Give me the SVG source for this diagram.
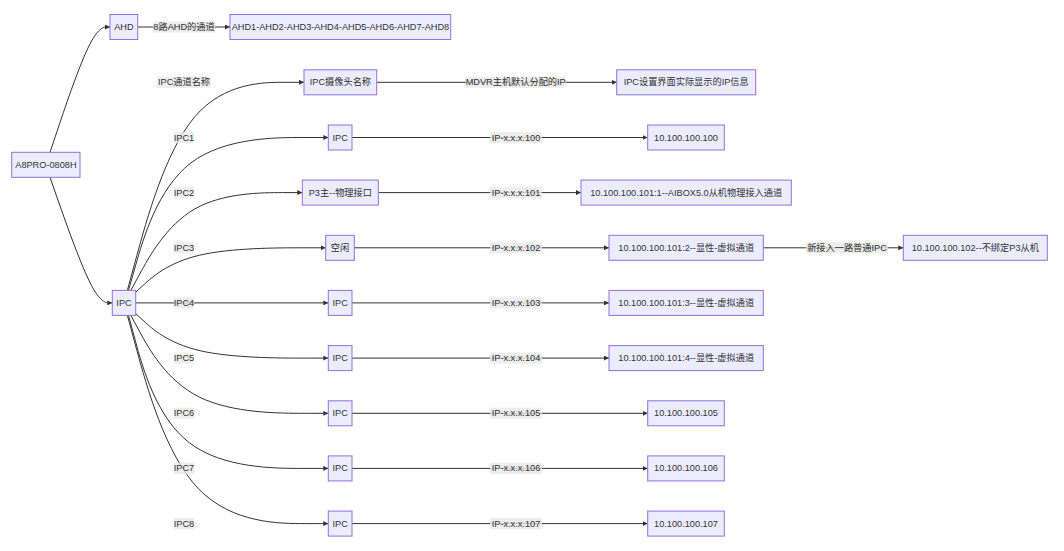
<svg xmlns="http://www.w3.org/2000/svg" width="1064" height="551" viewBox="0 0 1064 551">
<style>
text{font-family:"Liberation Sans","Noto Sans CJK SC",sans-serif;font-size:9.2px;fill:#333;text-anchor:middle;dominant-baseline:central}
.n rect{fill:#ECECFF;stroke:#9370DB;stroke-width:1}
.e path{fill:none;stroke:#333;stroke-width:1;marker-end:url(#arr)}
.l rect{fill:#e8e8e8;fill-opacity:0.8}
</style>
<defs>
<marker id="arr" viewBox="0 0 10 10" refX="10" refY="5" markerUnits="userSpaceOnUse" markerWidth="5" markerHeight="5" orient="auto">
<path d="M0,0 L10,5 L0,10 z" fill="#333"/>
</marker>
</defs>
<rect width="1064" height="551" fill="#fff"/>
<g id="connectors" class="e">
<path d="M50,152.3 L57,131.4 C64,110.5 78,68.8 88,47.9 C98,27 104,27 107,27 L110,27"/>
<path d="M50,177.3 L57.3,198.2 C64.7,219.2 79.3,261 89.7,282 C100.1,302.9 106.2,302.9 109.25,302.9 L112.3,302.9"/>
<path d="M137.7,27 L230,27"/>
<path d="M127.4,290.4 L136.8,255.7 C146.3,221 165.1,151.7 194.6,117 C224,82.3 264,82.3 284,82.3 L304,82.3"/>
<path d="M128.5,290.4 L135.75,264.9 C143,239.4 157.5,188.5 190.8,163 C224.1,137.5 276.2,137.5 302.25,137.5 L328.3,137.5"/>
<path d="M130.8,290.4 L139.7,274.1 C148.5,257.8 166.3,225.2 194.9,208.9 C223.4,192.6 262.9,192.6 282.6,192.6 L302.3,192.6"/>
<path d="M135.7,292.2 L143.75,284.8 C151.8,277.4 167.9,262.6 199.6,255.2 C231.2,247.8 278.5,247.8 302.1,247.8 L325.7,247.8"/>
<path d="M135.7,302.9 L328.3,302.9"/>
<path d="M135.7,313.6 L143.75,321 C151.8,328.4 167.9,343.2 200,350.7 C232.1,358.1 280.2,358.1 304.25,358.1 L328.3,358.1"/>
<path d="M130.8,315.4 L139.7,331.7 C148.5,348 166.3,380.7 199.2,397 C232.1,413.3 280.2,413.3 304.25,413.3 L328.3,413.3"/>
<path d="M128.5,315.4 L135.4,340.9 C142.3,366.4 156.2,417.4 189.5,442.9 C222.8,468.4 275.5,468.4 301.9,468.4 L328.3,468.4"/>
<path d="M127.4,315.4 L136.8,350.1 C146.3,384.8 165.1,454.2 198.6,488.9 C232.1,523.6 280.2,523.6 304.25,523.6 L328.3,523.6"/>
<path d="M376.7,82.3 L616.7,82.3"/>
<path d="M352,137.5 L647.7,137.5"/>
<path d="M378.3,192.6 L581,192.6"/>
<path d="M354.3,247.8 L609,247.8"/>
<path d="M763.3,247.8 L903.3,247.8"/>
<path d="M352,302.9 L609,302.9"/>
<path d="M352,358.1 L609,358.1"/>
<path d="M352,413.3 L647.7,413.3"/>
<path d="M352,468.4 L647.7,468.4"/>
<path d="M352,523.6 L647.7,523.6"/>
</g>
<g id="edge-labels" class="l">
<rect x="153" y="21.5" width="62" height="11"/><text x="184" y="27">8路AHD的通道</text>
<rect x="157" y="76.8" width="54" height="11"/><text x="184" y="82.3">IPC通道名称</text>
<rect x="174" y="132" width="20" height="11"/><text x="184" y="137.5">IPC1</text>
<rect x="174" y="187.1" width="20" height="11"/><text x="184" y="192.6">IPC2</text>
<rect x="174" y="242.3" width="20" height="11"/><text x="184" y="247.8">IPC3</text>
<rect x="174" y="297.4" width="20" height="11"/><text x="184" y="302.9">IPC4</text>
<rect x="174" y="352.6" width="20" height="11"/><text x="184" y="358.1">IPC5</text>
<rect x="174" y="407.8" width="20" height="11"/><text x="184" y="413.3">IPC6</text>
<rect x="174" y="462.9" width="20" height="11"/><text x="184" y="468.4">IPC7</text>
<rect x="174" y="518.1" width="20" height="11"/><text x="184" y="523.6">IPC8</text>
<rect x="465.7" y="76.8" width="100" height="11"/><text x="515.7" y="82.3">MDVR主机默认分配的IP</text>
<rect x="490" y="132" width="52" height="11"/><text x="516" y="137.5">IP-x.x.x.100</text>
<rect x="490" y="187.1" width="52" height="11"/><text x="516" y="192.6">IP-x.x.x.101</text>
<rect x="490" y="242.3" width="52" height="11"/><text x="516" y="247.8">IP-x.x.x.102</text>
<rect x="490" y="297.4" width="52" height="11"/><text x="516" y="302.9">IP-x.x.x.103</text>
<rect x="490" y="352.6" width="52" height="11"/><text x="516" y="358.1">IP-x.x.x.104</text>
<rect x="490" y="407.8" width="52" height="11"/><text x="516" y="413.3">IP-x.x.x.105</text>
<rect x="490" y="462.9" width="52" height="11"/><text x="516" y="468.4">IP-x.x.x.106</text>
<rect x="490" y="518.1" width="52" height="11"/><text x="516" y="523.6">IP-x.x.x.107</text>
<rect x="806" y="242.3" width="82" height="11"/><text x="847" y="247.8">新接入一路普通IPC</text>
</g>
<g id="n-a8pro" class="n"><rect x="11.7" y="152.3" width="68.3" height="25"/><text x="45.9" y="164.8">A8PRO-0808H</text></g>
<g id="n-ahd" class="n"><rect x="110" y="14.5" width="27.7" height="25"/><text x="123.9" y="27">AHD</text></g>
<g id="n-ahdlist" class="n"><rect x="230" y="14.5" width="220.7" height="25"/><text x="340.4" y="27">AHD1-AHD2-AHD3-AHD4-AHD5-AHD6-AHD7-AHD8</text></g>
<g id="n-ipc" class="n"><rect x="112.3" y="290.4" width="23.4" height="25"/><text x="124" y="302.9">IPC</text></g>
<g id="n-r0" class="n"><rect x="304" y="69.8" width="72.7" height="25"/><text x="340.4" y="82.3">IPC摄像头名称</text></g>
<g id="n-r1" class="n"><rect x="328.3" y="125" width="23.7" height="25"/><text x="340.2" y="137.5">IPC</text></g>
<g id="n-r2" class="n"><rect x="302.3" y="180.1" width="76" height="25"/><text x="340.3" y="192.6">P3主--物理接口</text></g>
<g id="n-r3" class="n"><rect x="325.7" y="235.3" width="28.6" height="25"/><text x="340" y="247.8">空闲</text></g>
<g id="n-r4" class="n"><rect x="328.3" y="290.4" width="23.7" height="25"/><text x="340.2" y="302.9">IPC</text></g>
<g id="n-r5" class="n"><rect x="328.3" y="345.6" width="23.7" height="25"/><text x="340.2" y="358.1">IPC</text></g>
<g id="n-r6" class="n"><rect x="328.3" y="400.8" width="23.7" height="25"/><text x="340.2" y="413.3">IPC</text></g>
<g id="n-r7" class="n"><rect x="328.3" y="455.9" width="23.7" height="25"/><text x="340.2" y="468.4">IPC</text></g>
<g id="n-r8" class="n"><rect x="328.3" y="511.1" width="23.7" height="25"/><text x="340.2" y="523.6">IPC</text></g>
<g id="n-ip0" class="n"><rect x="616.7" y="69.8" width="139" height="25"/><text x="686.2" y="82.3">IPC设置界面实际显示的IP信息</text></g>
<g id="n-ip1" class="n"><rect x="647.7" y="125" width="76.6" height="25"/><text x="686" y="137.5">10.100.100.100</text></g>
<g id="n-ip2" class="n"><rect x="581" y="180.1" width="210.3" height="25"/><text x="686.2" y="192.6">10.100.100.101:1--AIBOX5.0从机物理接入通道</text></g>
<g id="n-ip3" class="n"><rect x="609" y="235.3" width="154.3" height="25"/><text x="686.2" y="247.8">10.100.100.101:2--显性-虚拟通道</text></g>
<g id="n-ip3b" class="n"><rect x="903.3" y="235.3" width="144" height="25"/><text x="975.3" y="247.8">10.100.100.102--不绑定P3从机</text></g>
<g id="n-ip4" class="n"><rect x="609" y="290.4" width="154.3" height="25"/><text x="686.2" y="302.9">10.100.100.101:3--显性-虚拟通道</text></g>
<g id="n-ip5" class="n"><rect x="609" y="345.6" width="154.3" height="25"/><text x="686.2" y="358.1">10.100.100.101:4--显性-虚拟通道</text></g>
<g id="n-ip6" class="n"><rect x="647.7" y="400.8" width="76.6" height="25"/><text x="686" y="413.3">10.100.100.105</text></g>
<g id="n-ip7" class="n"><rect x="647.7" y="455.9" width="76.6" height="25"/><text x="686" y="468.4">10.100.100.106</text></g>
<g id="n-ip8" class="n"><rect x="647.7" y="511.1" width="76.6" height="25"/><text x="686" y="523.6">10.100.100.107</text></g>
</svg>
